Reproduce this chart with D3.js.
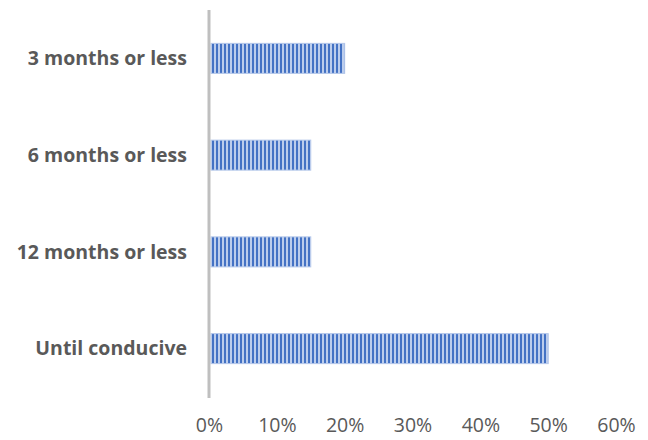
<!DOCTYPE html>
<html>
<head>
<meta charset="utf-8">
<script src="https://cdn.jsdelivr.net/npm/d3@7"></script>
<style>
  html, body { margin: 0; padding: 0; background: #fff; }
  svg { display: block; }
</style>
</head>
<body>
<svg id="chart" width="648" height="440"></svg>
<script>
// Share of responses by expected duration
const categories = ["3 months or less", "6 months or less", "12 months or less", "Until conducive"];
const values = [0.20, 0.15, 0.15, 0.50];
const tickValues = [0, 0.1, 0.2, 0.3, 0.4, 0.5, 0.6];

const svg = d3.select("#chart");
const margin = { left: 209, right: 32, top: 10, bottom: 43 };
const W = 648, H = 440;
const font = "'Open Sans', 'Noto Sans', sans-serif";

const x = d3.scaleLinear().domain([0, 0.6]).range([margin.left, W - margin.right]);
const y = d3.scaleBand().domain(categories).range([margin.top, H - margin.bottom]).paddingInner(0.69).paddingOuter(0.345);

// vertical stripe fill for the bars
const defs = svg.append("defs");
const pat = defs.append("pattern")
  .attr("id", "stripes")
  .attr("patternUnits", "userSpaceOnUse")
  .attr("width", 4).attr("height", 4);
pat.append("rect").attr("width", 4).attr("height", 4).attr("fill", "#bccdec");
pat.append("rect").attr("width", 2).attr("height", 4).attr("fill", "#4472c4");

svg.append("g").selectAll("rect")
  .data(values)
  .join("rect")
  .attr("x", x(0) + 2)
  .attr("y", (d, i) => y(categories[i]))
  .attr("width", d => x(d) - x(0) - 2)
  .attr("height", y.bandwidth())
  .attr("fill", "url(#stripes)")
  .attr("stroke", "#b4c7ea")
  .attr("stroke-width", 1);

// category axis line
svg.append("line")
  .attr("x1", x(0)).attr("x2", x(0))
  .attr("y1", margin.top).attr("y2", H - margin.bottom + 1)
  .attr("stroke", "#bfbfbf").attr("stroke-width", 3);

// category labels
svg.append("g").selectAll("text")
  .data(categories)
  .join("text")
  .attr("x", 187)
  .attr("y", d => y(d) + y.bandwidth() / 2)
  .attr("dy", "0.35em")
  .attr("text-anchor", "end")
  .attr("font-family", font)
  .attr("font-weight", "bold")
  .attr("font-size", 19.5)
  .attr("fill", "#595959")
  .text(d => d);

// value axis labels
const xAxis = d3.axisBottom(x).tickValues(tickValues).tickFormat(d3.format(".0%")).tickSize(0).tickPadding(0);
const gx = svg.append("g").attr("transform", `translate(0, 418)`).call(xAxis);
gx.select(".domain").remove();
gx.selectAll("text")
  .attr("font-family", font)
  .attr("font-size", 19.5)
  .attr("fill", "#595959");
</script>
</body>
</html>
